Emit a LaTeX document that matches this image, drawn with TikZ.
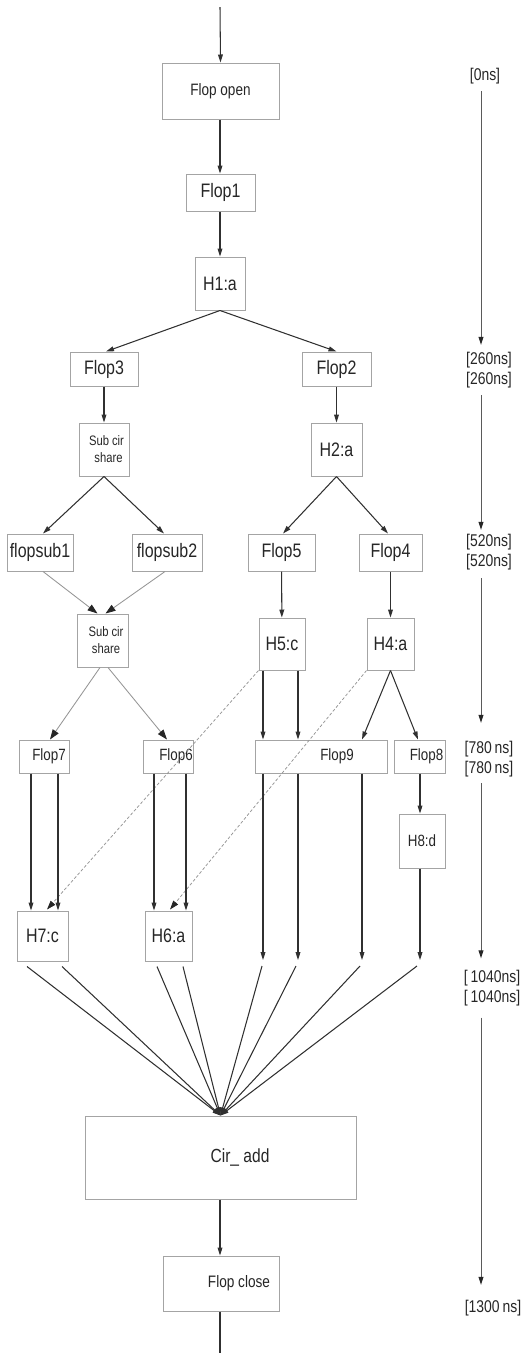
\documentclass[tikz,border=0pt]{standalone}
\usepackage{fontspec}
\setmainfont[FakeStretch=0.82]{Liberation Sans}
\usetikzlibrary{arrows.meta,calc}
\definecolor{boxgray}{HTML}{A4A4A4}
\definecolor{ink}{HTML}{262626}
\definecolor{wire}{HTML}{303030}
\definecolor{soft}{HTML}{959595}
\definecolor{axis}{HTML}{5A5A5A}
\tikzset{
  box/.style={draw=boxgray, line width=1pt, inner sep=0pt, text=ink,
    font=\fontsize{19.5}{22}\selectfont},
  smallbox/.style={box, font=\fontsize{16.3}{19}\selectfont},
  subbox/.style={box, align=center, font=\fontsize{13.7}{17}\selectfont},
  arr/.style={draw=wire, line width=1.05pt, -{Triangle[length=8pt,width=4.8pt]}},
  softarr/.style={draw=soft, line width=0.85pt,
    -{Triangle[length=10pt,width=7pt,color=black!85]}},
  dasharr/.style={draw=soft, line width=0.75pt, dash pattern=on 3pt off 2pt,
    -{Triangle[length=9pt,width=6pt,color=black!85]}},
  plain/.style={draw=wire, line width=1.05pt},
  tlabel/.style={text=ink, inner sep=4pt, align=center,
    font=\fontsize{17}{20}\selectfont},
  tarr/.style={draw=axis, line width=1pt, -{Triangle[length=8pt,width=4.8pt,color=black!85]}}
}
\begin{document}
\begin{tikzpicture}[x=1pt,y=-1pt]
\useasboundingbox (0,0) rectangle (522,1353);

% ---------- blocks ----------
\node[box, font=\fontsize{16.5}{19}\selectfont, minimum width=117pt, minimum height=56pt] (fo) at (220.5,91) {Flop open};
\node[box, minimum width=69pt, minimum height=37pt] (f1) at (220.5,192.5) {Flop1};
\node[box, minimum width=50pt, minimum height=53pt] (h1) at (220,283.5) {H1:a};

\node[box, minimum width=68pt, minimum height=34pt] (f3) at (104,369) {Flop3};
\node[box, minimum width=69pt, minimum height=34pt] (f2) at (336.5,369) {Flop2};

\node[subbox, minimum width=50pt, minimum height=53pt] (s1) at (104,449.5) {\hspace*{5pt}Sub cir\\\hspace*{9pt}share};
\node[box, minimum width=51pt, minimum height=53pt] (h2) at (336.5,449.5) {H2:a};

\node[box, minimum width=66pt, minimum height=37pt] (fs1) at (40,552.5) {flopsub1};
\node[box, minimum width=70pt, minimum height=37pt] (fs2) at (167,552.5) {flopsub2};
\node[box, minimum width=67pt, minimum height=37pt] (f5) at (281.5,552.5) {Flop5};
\node[box, minimum width=63pt, minimum height=37pt] (f4) at (390.5,552.5) {Flop4};

\node[subbox, minimum width=51pt, minimum height=53pt] (s2) at (102.5,640.5) {\hspace*{7pt}Sub cir\\\hspace*{7pt}share};
\node[box, minimum width=46pt, minimum height=52pt] (h5) at (282,644) {H5:c};
\node[box, minimum width=47pt, minimum height=52pt] (h4) at (390.5,644) {H4:a};

\node[smallbox, minimum width=50pt, minimum height=33pt] (f7) at (44,756.5) {\hspace*{10pt}Flop7};
\node[smallbox, minimum width=50pt, minimum height=33pt] (f6) at (168,756.5) {\hspace*{16pt}Flop6};
\node[smallbox, minimum width=132pt, minimum height=33pt] (f9) at (321,756.5) {\hspace*{32pt}Flop9};
\node[smallbox, minimum width=51pt, minimum height=33pt] (f8) at (419.5,756.5) {\hspace*{14pt}Flop8};

\node[smallbox, minimum width=46pt, minimum height=54pt] (h8) at (422,841) {H8:d};

\node[box, minimum width=51pt, minimum height=50pt] (h7) at (42.5,936) {H7:c};
\node[box, minimum width=47pt, minimum height=50pt] (h6) at (168.5,936) {H6:a};

\node[box, font=\fontsize{19}{22}\selectfont, minimum width=271pt, minimum height=83pt] (ca) at (220.5,1157.5) {\hspace*{39pt}Cir\_ add};
\node[box, font=\fontsize{16.6}{19}\selectfont, minimum width=116pt, minimum height=55pt] (fc) at (221,1283.5) {\hspace*{36pt}Flop close};

% free ends of the open wires
\coordinate (in) at (220,7);
\coordinate (out) at (220,1353);
\coordinate (e1) at (263,960);
\coordinate (e2) at (298,960);
\coordinate (e3) at (362,960);
\coordinate (e4) at (420,960);

% ---------- main flow ----------
\draw[arr] (in) -- (fo.north);
\draw[arr] (fo.south -| in) -- (f1.north -| in);
\draw[arr] (f1.south -| in) -- (h1.north -| in);
\draw[arr] (h1.south) -- ([shift={(2,0)}]f3.north);
\draw[arr] (h1.south) -- (f2.north);
\draw[arr] (f3) -- (s1);
\draw[arr] (f2) -- (h2);

\draw[arr] (s1.south) -- ([shift={(3,0)}]fs1.north);
\draw[arr] (s1.south) -- ([shift={(-3,0)}]fs2.north);
\draw[arr] (h2.south) -- ([shift={(1.5,0)}]f5.north);
\draw[arr] (h2.south) -- ([shift={(-2.5,0)}]f4.north);

\draw[softarr] ([shift={(3,0)}]fs1.south) -- ([shift={(-5,0)}]s2.north);
\draw[softarr] ([shift={(-2,0)}]fs2.south) -- ([shift={(3,0)}]s2.north);
\draw[arr] (f5) -- (h5);
\draw[arr] (f4) -- (h4);

\draw[softarr] ([shift={(-2.5,0)}]s2.south) -- ([shift={(6,0)}]f7.north);
\draw[softarr] ([shift={(5.5,0)}]s2.south) -- ([shift={(-1,0)}]f6.north);

\draw[arr] ([shift={(-19,0)}]h5.south) -- ([shift={(-58,0)}]f9.north);
\draw[arr] ([shift={(16,0)}]h5.south) -- ([shift={(-23,0)}]f9.north);
\draw[arr] (h4.south) -- ([shift={(41,0)}]f9.north);
\draw[arr] (h4.south) -- ([shift={(-1.5,0)}]f8.north);

\draw[dasharr] (h5.south west) -- ([shift={(4.5,-1)}]h7.north);
\draw[dasharr] (h4.south west) -- ([shift={(1.5,-1)}]h6.north);

\draw[arr] ([shift={(-13,0)}]f7.south) -- ([shift={(-11.5,0)}]h7.north);
\draw[arr] ([shift={(14,0)}]f7.south) -- ([shift={(15.5,0)}]h7.north);
\draw[arr] ([shift={(-14,0)}]f6.south) -- ([shift={(-14.5,0)}]h6.north);
\draw[arr] ([shift={(18,0)}]f6.south) -- ([shift={(17.5,0)}]h6.north);

\draw[arr] (f9.south -| e1) -- (e1);
\draw[arr] (f9.south -| e2) -- (e2);
\draw[arr] (f9.south -| e3) -- (e3);
\draw[arr] (f8.south -| e4) -- (h8.north -| e4);
\draw[arr] (h8.south -| e4) -- (e4);

% ---------- merge into Cir_ add ----------
\draw[arr] ([shift={(-15.5,5)}]h7.south) -- (ca.north);
\draw[arr] ([shift={(19.5,5)}]h7.south) -- (ca.north);
\draw[arr] ([shift={(-11.5,5)}]h6.south) -- (ca.north);
\draw[arr] ([shift={(14.5,5)}]h6.south) -- (ca.north);
\draw[arr] ([shift={(-1,6)}]e1) -- (ca.north);
\draw[arr] ([shift={(-2,6)}]e2) -- (ca.north);
\draw[arr] ([shift={(-2,6)}]e3) -- (ca.north);
\draw[arr] ([shift={(-3,6)}]e4) -- (ca.north);

\draw[arr] (ca.south -| in) -- (fc.north -| in);
\draw[plain] (fc.south -| in) -- (out);

% ---------- time axis ----------
\coordinate (tl) at (481,0);
\node[tlabel] (t0) at (485,76) {[0ns]};
\node[tlabel] (t1) at (489,370) {[260ns]\\{[260ns]}};
\node[tlabel] (t2) at (489,552) {[520ns]\\{[520ns]}};
\node[tlabel] (t3) at (489,759) {[780\,ns]\\{[780\,ns]}};
\node[tlabel] (t4) at (492,988.5) {[\,1040ns]\\{[\,1040ns]}};
\node[tlabel] (t5) at (493,1308) {[1300\,ns]};

\draw[tarr, shorten <=3pt, shorten >=3pt] (t0.south -| tl) -- (t1.north -| tl);
\draw[tarr, shorten <=3pt] (t1.south -| tl) -- (t2.north -| tl);
\draw[tarr, shorten <=4pt, shorten >=14pt] (t2.south -| tl) -- (t3.north -| tl);
\draw[tarr, shorten <=2pt, shorten >=8pt] (t3.south -| tl) -- (t4.north -| tl);
\draw[tarr, shorten <=7pt, shorten >=11pt] (t4.south -| tl) -- (t5.north -| tl);
\end{tikzpicture}
\end{document}
